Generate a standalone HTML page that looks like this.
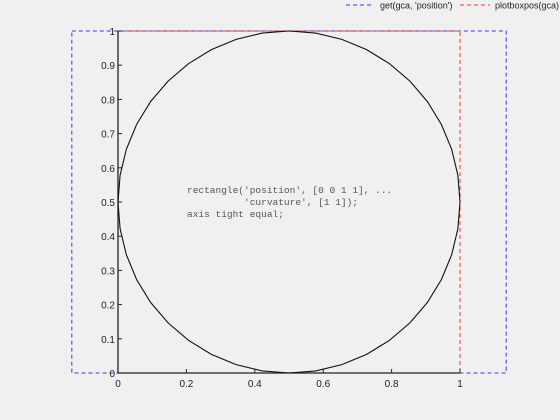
<!DOCTYPE html>
<html><head><meta charset="utf-8"><style>
html,body{margin:0;padding:0;background:#f0f0f0;width:560px;height:420px;overflow:hidden}
svg{display:block;font-family:"Liberation Sans",sans-serif}
</style></head><body>
<svg id="chart" width="560" height="420" viewBox="0 0 560 420">
<g>
  <line x1="346" y1="5" x2="374" y2="5" stroke="#3333ff" stroke-dasharray="4,3"/>
  <text x="380" y="8.5" font-size="9" fill="#222">get(gca, 'position')</text>
  <line x1="460" y1="5" x2="490" y2="5" stroke="#ff3333" stroke-dasharray="4,3"/>
  <text x="495" y="8.5" font-size="9" fill="#222">plotboxpos(gca)</text>
</g>
<g id="plot"></g>
</svg>
<script>
const xTicks=[0,0.2,0.4,0.6,0.8,1];
const yTicks=[0,0.1,0.2,0.3,0.4,0.5,0.6,0.7,0.8,0.9,1];
const xTickLabels=["0","0.2","0.4","0.6","0.8","1"];
const yTickLabels=["0","0.1","0.2","0.3","0.4","0.5","0.6","0.7","0.8","0.9","1"];
const rectPos=[0,0,1,1];
const posBox=[-0.135,0,1.27,1];
const nSeg=40;
const X0=118,X1=460,Y0=373,Y1=31;
const sx=v=>X0+(v-0)*(X1-X0);
const sy=v=>Y0-(v-0)*(Y0-Y1);
const NS="http://www.w3.org/2000/svg";
const g=document.getElementById('plot');
function mk(t,a){const e=document.createElementNS(NS,t);for(const k in a)e.setAttribute(k,a[k]);g.appendChild(e);return e;}
let pb=mk('rect',{x:sx(posBox[0]),y:sy(posBox[1]+posBox[3]),width:sx(posBox[0]+posBox[2])-sx(posBox[0]),height:sy(posBox[1])-sy(posBox[1]+posBox[3]),fill:'none',stroke:'#3333ff','stroke-dasharray':'4,3'});


let rb=mk('rect',{x:sx(0),y:sy(1),width:sx(1)-sx(0),height:sy(0)-sy(1),fill:'none',stroke:'#ff3333','stroke-dasharray':'4,3'});


let ax=mk('path',{d:`M${X0},${Y1}V${Y0}H${X1}`,fill:'none',stroke:'#222','stroke-width':1.3});


xTicks.forEach((v,i)=>{
  const t=mk('line',{x1:sx(v),x2:sx(v),y1:Y0,y2:Y0-4,stroke:'#222'});
  
  
  const l=mk('text',{x:sx(v),y:Y0+14,'font-size':10,'text-anchor':'middle',fill:'#222'});
  l.textContent=xTickLabels[i];
  
  
});
yTicks.forEach((v,i)=>{
  const t=mk('line',{x1:X0,x2:X0+4,y1:sy(v),y2:sy(v),stroke:'#222'});
  
  
  const l=mk('text',{x:X0-3,y:sy(v)+4,'font-size':10,'text-anchor':'end',fill:'#222'});
  l.textContent=yTickLabels[i];
  
  
});
const cx=rectPos[0]+rectPos[2]/2, cy=rectPos[1]+rectPos[3]/2;
let pts=[];
for(let i=0;i<=nSeg;i++){const a=2*Math.PI*i/nSeg;pts.push(sx(cx+rectPos[2]/2*Math.cos(a))+','+sy(cy+rectPos[3]/2*Math.sin(a)));}
let c=mk('polyline',{points:pts.join(' '),fill:'none',stroke:'#111','stroke-width':1.1});


const lines=["rectangle('position', [0 0 1 1], ...","          'curvature', [1 1]);","axis tight equal;"];
lines.forEach((s,i)=>{
  const t=mk('text',{x:187,y:193+i*12,'font-size':9.5,fill:'#555','font-family':'Liberation Mono, monospace'});
  t.style.whiteSpace='pre';
  t.textContent=s;
  
  
});
</script>
</body></html>
